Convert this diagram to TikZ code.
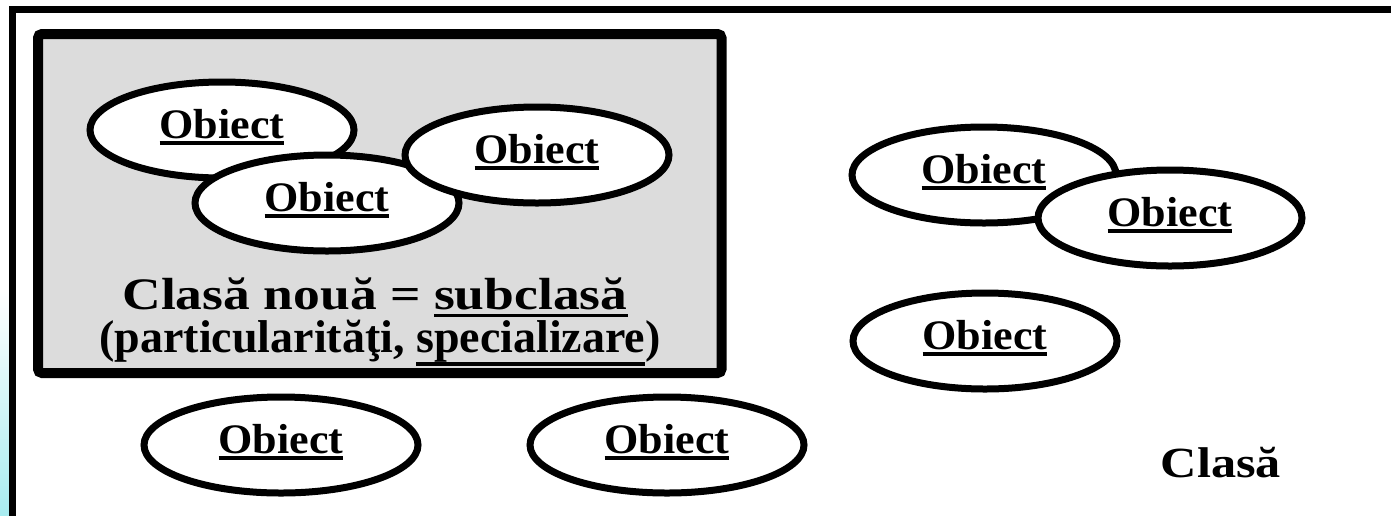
\documentclass[tikz,border=0pt]{standalone}
\usepackage{graphicx}
\usepackage{fontspec}
\setmainfont{Liberation Serif}[BoldFont={Liberation Serif Bold}]
\usetikzlibrary{shapes.geometric}
\definecolor{boxgray}{RGB}{220,220,220}
\definecolor{edgecyan}{RGB}{168,236,240}
% underline as a solid bar below the word (below descenders if any);
% optional argument: gap between the lowest point of the word and the bar
\newcommand\ulword[2][6pt]{\setbox0=\hbox{#2}\leavevmode\rlap{\rule[\dimexpr-\dp0-#1-3.5pt\relax]{\wd0}{3.5pt}}\box0}
\tikzset{
  obj/.style={ellipse, draw=black, line width=7pt, fill=white,
    minimum width=264pt, minimum height=96pt, inner sep=0pt,
    text height=29pt, text depth=13pt,
    font=\fontsize{42}{48}\selectfont\bfseries},
  wideobj/.style={obj, minimum width=274pt},
  big/.style={font=\fontsize{45}{52}\selectfont\bfseries, inner sep=0pt, anchor=base},
  mid/.style={font=\fontsize{46}{52}\selectfont\bfseries, inner sep=0pt, anchor=base},
}
\newcommand\objtext{\scalebox{1.05}[1]{\ulword[3pt]{Obiect}}}
\begin{document}
\begin{tikzpicture}[x=1pt,y=-1pt]
\useasboundingbox (0,0) rectangle (1391,515);
\clip (0,0) rectangle (1391,515);
% shaded strip on the left edge
\shade[top color=white, bottom color=edgecyan] (0,290) rectangle (9,515);
% outer class frame
\draw[line width=7pt] (12.5,9.5) rectangle (1420,540);
% subclass box
\draw[line width=10pt, rounded corners=4pt, fill=boxgray] (38,34) rectangle (721.5,373);
% objects inside the subclass
\node[obj] (o1) at (222,130) {\objtext};
\node[obj] (o2) at (327,203) {\objtext};
\node[obj] (o3) at (537,155) {\objtext};
\node[big] (sub) at (375,309) {\scalebox{1.19}[1]{Clasă nouă = \ulword[4pt]{subclasă}}};
\node[mid] (spec) at (380,352) {(particularităţi, \ulword[0.5pt]{specializare})};
% objects of the class
\node[obj] (o4) at (984,175) {\objtext};
\node[obj] (o5) at (1170,218) {\objtext};
\node[obj] (o6) at (985,341) {\objtext};
\node[wideobj] (o7) at (281,445) {\objtext};
\node[wideobj] (o8) at (667,445) {\objtext};
\node[big, font=\fontsize{43}{50}\selectfont\bfseries] (cls) at (1221,477) {\scalebox{1.17}[1]{Clasă}};
\end{tikzpicture}
\end{document}
